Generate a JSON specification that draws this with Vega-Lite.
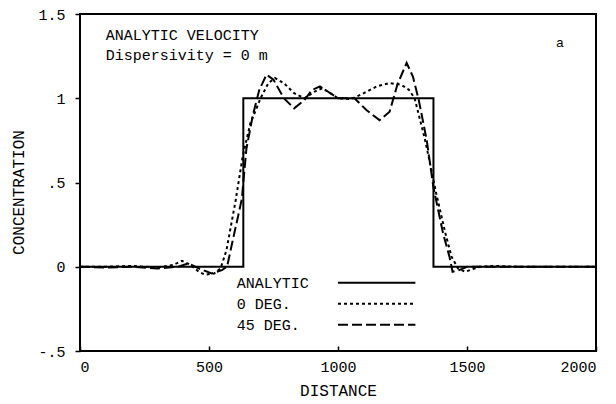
{
  "$schema": "https://vega.github.io/schema/vega-lite/v6.json",
  "autosize": {"type": "none"},
  "padding": {"left": 80, "top": 14, "right": 20, "bottom": 53},
  "width": 516,
  "height": 337,
  "background": "white",
  "config": {
    "view": {"stroke": "black", "strokeWidth": 2},
    "font": "Liberation Mono",
    "axis": {"grid": false, "domain": false, "labelFont": "Liberation Mono", "labelFontSize": 15, "labelColor": "black", "titleFont": "Liberation Mono", "titleFontSize": 16, "titleFontWeight": "normal", "titleColor": "black", "tickColor": "black", "tickWidth": 1.5}
  },
  "datasets": {
    "curves": [
      {"series": "ANALYTIC", "distance": 0, "conc": 0},
      {"series": "ANALYTIC", "distance": 633, "conc": 0},
      {"series": "ANALYTIC", "distance": 633, "conc": 1},
      {"series": "ANALYTIC", "distance": 1370, "conc": 1},
      {"series": "ANALYTIC", "distance": 1370, "conc": 0},
      {"series": "ANALYTIC", "distance": 2000, "conc": 0},

      {"series": "0 DEG.", "distance": 0, "conc": 0},
      {"series": "0 DEG.", "distance": 100, "conc": 0},
      {"series": "0 DEG.", "distance": 200, "conc": 0.005},
      {"series": "0 DEG.", "distance": 300, "conc": -0.005},
      {"series": "0 DEG.", "distance": 360, "conc": 0.01},
      {"series": "0 DEG.", "distance": 395, "conc": 0.035},
      {"series": "0 DEG.", "distance": 430, "conc": 0.01},
      {"series": "0 DEG.", "distance": 460, "conc": -0.03},
      {"series": "0 DEG.", "distance": 485, "conc": -0.047},
      {"series": "0 DEG.", "distance": 520, "conc": -0.04},
      {"series": "0 DEG.", "distance": 545, "conc": -0.01},
      {"series": "0 DEG.", "distance": 568, "conc": 0.1},
      {"series": "0 DEG.", "distance": 604, "conc": 0.4},
      {"series": "0 DEG.", "distance": 630, "conc": 0.65},
      {"series": "0 DEG.", "distance": 660, "conc": 0.85},
      {"series": "0 DEG.", "distance": 700, "conc": 1.0},
      {"series": "0 DEG.", "distance": 730, "conc": 1.09},
      {"series": "0 DEG.", "distance": 756, "conc": 1.12},
      {"series": "0 DEG.", "distance": 790, "conc": 1.09},
      {"series": "0 DEG.", "distance": 830, "conc": 1.03},
      {"series": "0 DEG.", "distance": 870, "conc": 1.0},
      {"series": "0 DEG.", "distance": 910, "conc": 1.04},
      {"series": "0 DEG.", "distance": 940, "conc": 1.06},
      {"series": "0 DEG.", "distance": 970, "conc": 1.03},
      {"series": "0 DEG.", "distance": 1000, "conc": 1.0},
      {"series": "0 DEG.", "distance": 1050, "conc": 0.995},
      {"series": "0 DEG.", "distance": 1100, "conc": 1.03},
      {"series": "0 DEG.", "distance": 1150, "conc": 1.07},
      {"series": "0 DEG.", "distance": 1200, "conc": 1.09},
      {"series": "0 DEG.", "distance": 1245, "conc": 1.08},
      {"series": "0 DEG.", "distance": 1275, "conc": 1.05},
      {"series": "0 DEG.", "distance": 1297, "conc": 1.0},
      {"series": "0 DEG.", "distance": 1338, "conc": 0.75},
      {"series": "0 DEG.", "distance": 1380, "conc": 0.44},
      {"series": "0 DEG.", "distance": 1416, "conc": 0.2},
      {"series": "0 DEG.", "distance": 1440, "conc": 0.06},
      {"series": "0 DEG.", "distance": 1465, "conc": -0.01},
      {"series": "0 DEG.", "distance": 1493, "conc": -0.03},
      {"series": "0 DEG.", "distance": 1520, "conc": -0.015},
      {"series": "0 DEG.", "distance": 1550, "conc": 0},
      {"series": "0 DEG.", "distance": 1600, "conc": 0.005},
      {"series": "0 DEG.", "distance": 1700, "conc": 0},
      {"series": "0 DEG.", "distance": 2000, "conc": 0},

      {"series": "45 DEG.", "distance": 0, "conc": 0},
      {"series": "45 DEG.", "distance": 100, "conc": -0.005},
      {"series": "45 DEG.", "distance": 200, "conc": 0},
      {"series": "45 DEG.", "distance": 300, "conc": -0.01},
      {"series": "45 DEG.", "distance": 380, "conc": 0.0},
      {"series": "45 DEG.", "distance": 420, "conc": 0.02},
      {"series": "45 DEG.", "distance": 460, "conc": -0.01},
      {"series": "45 DEG.", "distance": 510, "conc": -0.04},
      {"series": "45 DEG.", "distance": 550, "conc": -0.02},
      {"series": "45 DEG.", "distance": 570, "conc": 0.0},
      {"series": "45 DEG.", "distance": 584, "conc": 0.1},
      {"series": "45 DEG.", "distance": 627, "conc": 0.4},
      {"series": "45 DEG.", "distance": 645, "conc": 0.7},
      {"series": "45 DEG.", "distance": 670, "conc": 0.9},
      {"series": "45 DEG.", "distance": 695, "conc": 1.05},
      {"series": "45 DEG.", "distance": 723, "conc": 1.14},
      {"series": "45 DEG.", "distance": 750, "conc": 1.11},
      {"series": "45 DEG.", "distance": 790, "conc": 1.0},
      {"series": "45 DEG.", "distance": 830, "conc": 0.94},
      {"series": "45 DEG.", "distance": 870, "conc": 0.99},
      {"series": "45 DEG.", "distance": 900, "conc": 1.05},
      {"series": "45 DEG.", "distance": 930, "conc": 1.07},
      {"series": "45 DEG.", "distance": 960, "conc": 1.04},
      {"series": "45 DEG.", "distance": 1000, "conc": 1.0},
      {"series": "45 DEG.", "distance": 1064, "conc": 1.0},
      {"series": "45 DEG.", "distance": 1110, "conc": 0.93},
      {"series": "45 DEG.", "distance": 1161, "conc": 0.87},
      {"series": "45 DEG.", "distance": 1200, "conc": 0.92},
      {"series": "45 DEG.", "distance": 1230, "conc": 1.08},
      {"series": "45 DEG.", "distance": 1266, "conc": 1.21},
      {"series": "45 DEG.", "distance": 1290, "conc": 1.13},
      {"series": "45 DEG.", "distance": 1313, "conc": 0.99},
      {"series": "45 DEG.", "distance": 1344, "conc": 0.75},
      {"series": "45 DEG.", "distance": 1370, "conc": 0.47},
      {"series": "45 DEG.", "distance": 1407, "conc": 0.2},
      {"series": "45 DEG.", "distance": 1432, "conc": 0.06},
      {"series": "45 DEG.", "distance": 1444, "conc": -0.03},
      {"series": "45 DEG.", "distance": 1470, "conc": -0.02},
      {"series": "45 DEG.", "distance": 1500, "conc": 0},
      {"series": "45 DEG.", "distance": 2000, "conc": 0}
    ],
    "legend": [
      {"series": "ANALYTIC", "from": 1000, "to": 1300, "level": -0.095},
      {"series": "0 DEG.", "from": 1000, "to": 1300, "level": -0.22},
      {"series": "45 DEG.", "from": 1000, "to": 1300, "level": -0.344}
    ],
    "notes": [
      {"text": "ANALYTIC VELOCITY", "px": 100, "py": 1.377},
      {"text": "Dispersivity = 0 m", "px": 100, "py": 1.258}
    ]
  },
  "layer": [
    {
      "data": {"name": "curves"},
      "mark": {"type": "line", "strokeWidth": 2, "color": "black", "clip": true},
      "encoding": {
        "x": {"field": "distance", "type": "quantitative", "scale": {"domain": [0, 2000], "nice": false},
          "axis": {"values": [0, 500, 1000, 1500, 2000], "format": "d", "title": "DISTANCE", "tickSize": -5, "labelPadding": 13, "titleY": 44, "titleBaseline": "alphabetic"}},
        "y": {"field": "conc", "type": "quantitative", "scale": {"domain": [-0.5, 1.5], "nice": false},
          "axis": {"values": [-0.5, 0, 0.5, 1, 1.5], "labelExpr": "datum.value == 0.5 ? '.5' : datum.value == -0.5 ? '-.5' : datum.value == 1.5 ? '1.5' : datum.value == 1 ? '1' : '0'", "title": "CONCENTRATION", "tickSize": 5, "labelPadding": 10, "titleX": -62, "titleY": 178, "titleAlign": "center", "titleBaseline": "middle"}},
        "strokeDash": {"field": "series", "type": "nominal",
          "scale": {"domain": ["ANALYTIC", "0 DEG.", "45 DEG."], "range": [[1, 0], [3, 3], [10, 4]]},
          "legend": null},
        "order": {"field": "distance", "type": "quantitative"}
      }
    },
    {
      "data": {"name": "legend"},
      "mark": {"type": "rule", "strokeWidth": 2, "color": "black"},
      "encoding": {
        "x": {"field": "from", "type": "quantitative"},
        "x2": {"field": "to"},
        "y": {"field": "level", "type": "quantitative"},
        "strokeDash": {"field": "series", "type": "nominal", "legend": null}
      }
    },
    {
      "data": {"name": "legend"},
      "mark": {"type": "text", "align": "left", "baseline": "middle", "fontSize": 15, "font": "Liberation Mono", "color": "black"},
      "encoding": {
        "x": {"datum": 608},
        "y": {"field": "level", "type": "quantitative"},
        "text": {"field": "series"}
      }
    },
    {
      "data": {"name": "notes"},
      "mark": {"type": "text", "align": "left", "baseline": "middle", "fontSize": 15, "font": "Liberation Mono", "color": "black"},
      "encoding": {"x": {"field": "px", "type": "quantitative"}, "y": {"field": "py", "type": "quantitative"}, "text": {"field": "text"}}
    },
    {
      "data": {"values": [{"text": "a"}]},
      "mark": {"type": "text", "align": "center", "baseline": "middle", "fontSize": 13, "font": "Liberation Sans", "color": "black"},
      "encoding": {"x": {"datum": 1860}, "y": {"datum": 1.33}, "text": {"field": "text"}}
    }
  ]
}
